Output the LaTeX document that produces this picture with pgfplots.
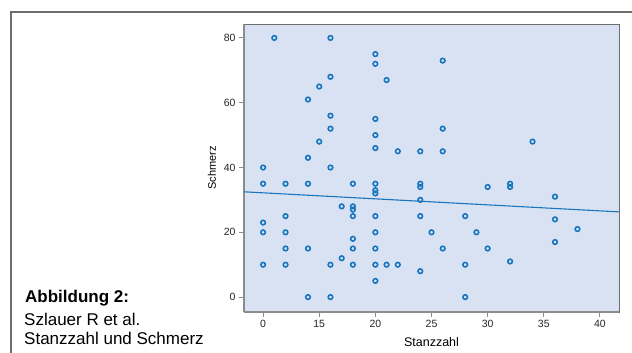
\documentclass[border=0pt]{standalone}
\usepackage{pgfplots}
\pgfplotsset{compat=1.18}
\usepackage{fontspec}
\setmainfont{Liberation Sans}
\definecolor{bgblue}{RGB}{217,226,243}
\definecolor{ptblue}{RGB}{24,117,190}
\definecolor{framegray}{RGB}{110,110,110}
\definecolor{axgray}{RGB}{140,140,140}
\begin{document}
\begin{tikzpicture}[x=1pt,y=1pt]
\useasboundingbox (0,0) rectangle (632,353);
% outer frame (left and top)
\draw[framegray, line width=1.6pt] (11,-1) -- (11,341) -- (633,341);
% caption
\node[anchor=base west, inner sep=0] at (25,50) {\fontsize{17}{20}\selectfont\bfseries Abbildung 2:};
\node[anchor=base west, inner sep=0] at (24,27) {\fontsize{17}{20}\selectfont Szlauer R et al.};
\node[anchor=base west, inner sep=0] at (24,8) {\fontsize{17}{20}\selectfont Stanzzahl und Schmerz};
\begin{axis}[
  at={(244pt,41pt)}, anchor=south west,
  scale only axis, width=375pt, height=288pt,
  xmin=8.3, xmax=41.7, ymin=-4.6, ymax=84.3,
  axis background/.style={fill=bgblue},
  axis line style={framegray, line width=0.7pt},
  xtick={10,15,20,25,30,35,40},
  xticklabels={0,15,20,25,30,35,40},
  ytick={0,20,40,60,80},
  tick pos=left, tick align=outside,
  major tick length=5pt,
  tick style={axgray, line width=0.9pt},
  /pgf/number format/assume math mode=true,
  ticklabel style={font=\fontsize{10.5}{12}\selectfont, text=black!85},
  xlabel={Stanzzahl}, ylabel={Schmerz},
  xlabel style={font=\fontsize{12.5}{14}\selectfont, yshift=-3pt},
  ylabel style={font=\fontsize{11}{13}\selectfont, yshift=1pt},
  clip=false,
]
\draw[axgray, line width=2pt] (rel axis cs:0,0) -- (rel axis cs:0,1);
\draw[axgray, line width=2pt] (rel axis cs:0,0) -- (rel axis cs:1,0);
\addplot[only marks, mark=o, mark size=2.3pt, mark options={ptblue, line width=1.6pt}] coordinates {
(10,40) (10,35) (10,23) (10,20) (10,10)
(11,80)
(12,35) (12,25) (12,20) (12,15) (12,10)
(14,61) (14,43) (14,35) (14,15) (14,0)
(15,65) (15,48)
(16,80) (16,68) (16,56) (16,52) (16,40) (16,10) (16,0)
(17,28) (17,12)
(18,35) (18,28) (18,27) (18,25) (18,18) (18,15) (18,10)
(20,75) (20,72) (20,55) (20,50) (20,46) (20,35) (20,33) (20,32) (20,25) (20,20) (20,15) (20,10) (20,5)
(21,67) (21,10)
(22,45) (22,10)
(24,45) (24,35) (24,34) (24,30) (24,25) (24,8)
(25,20)
(26,73) (26,52) (26,45) (26,15)
(28,25) (28,10) (28,0)
(29,20)
(30,34) (30,15)
(32,35) (32,34) (32,11)
(34,48)
(36,31) (36,24) (36,17)
(38,21)
};
\addplot[ptblue, line width=1.1pt] coordinates {(8.3,32.5) (41.7,26.3)};
\end{axis}
\end{tikzpicture}
\end{document}
